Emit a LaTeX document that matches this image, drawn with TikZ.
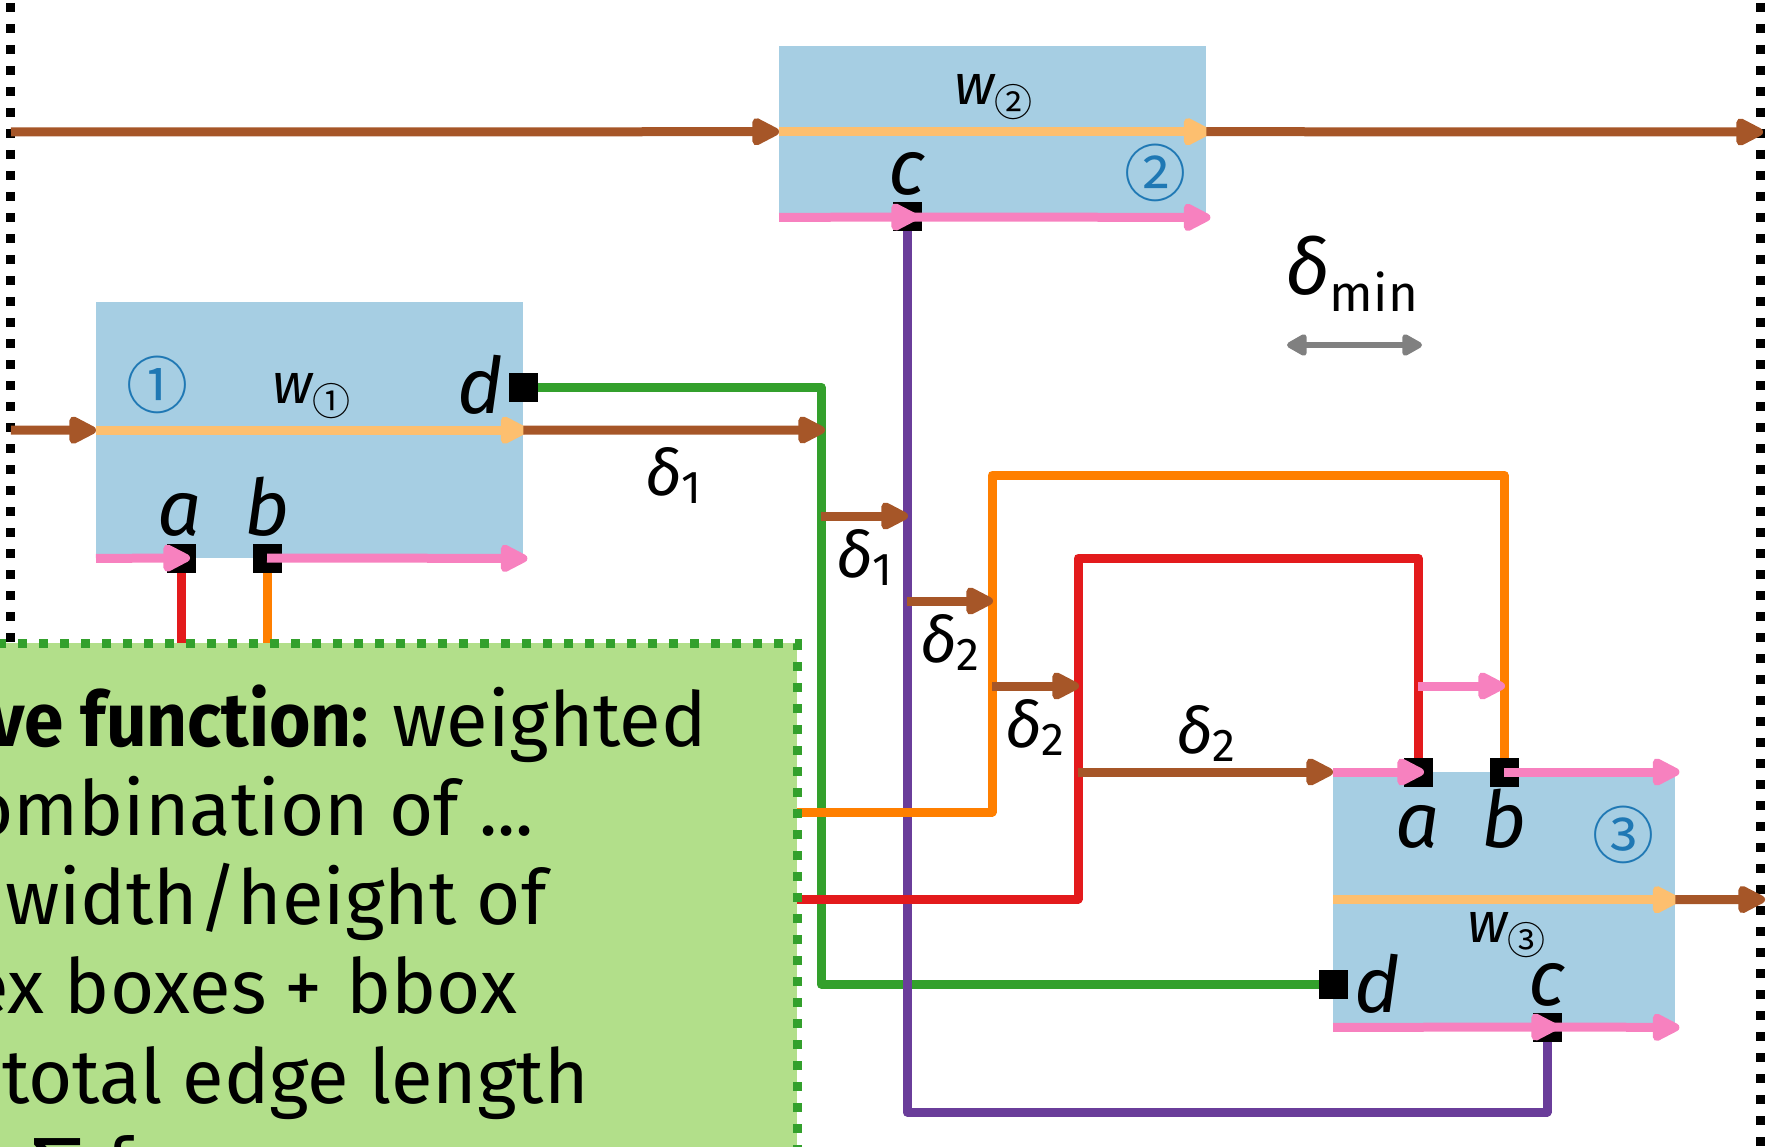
\documentclass[tikz,border=0pt]{standalone}
\usepackage{fontspec}
\setmainfont{Fira Sans}
\newfontfamily\circfont{DejaVu Sans}
\newfontfamily\cjk{Noto Sans CJK SC}
\usetikzlibrary{arrows.meta}
\definecolor{boxblue}{HTML}{A6CEE3}
\definecolor{numblue}{HTML}{1F78B4}
\definecolor{lgreen}{HTML}{B2DF8A}
\definecolor{dgreen}{HTML}{33A02C}
\definecolor{cred}{HTML}{E31A1C}
\definecolor{corange}{HTML}{FF7F00}
\definecolor{lorange}{HTML}{FDBF6F}
\definecolor{cpurple}{HTML}{6A3D9A}
\definecolor{cbrown}{HTML}{A65628}
\definecolor{cpink}{HTML}{F781BF}
\newcommand{\dlab}[1]{{\itshape δ}\raisebox{-8pt}{\fontsize{46}{50}\selectfont #1}}
\newcommand{\wlab}[1]{{\itshape w}\raisebox{-12pt}{\cjk\fontsize{38}{44}\selectfont #1}}
\tikzset{
  wire/.style={line width=9pt, line join=round, line cap=butt},
  arr/.style={wire, -{Triangle[round,length=32pt,width=30pt]}},
  vbox/.style={fill=boxblue, draw=none, inner sep=0pt, anchor=north west},
  port/.style={fill=black, minimum size=29pt, inner sep=0pt, draw=none},
  plabel/.style={font=\fontsize{78}{90}\selectfont\itshape, inner sep=0pt, anchor=base},
  dlabel/.style={font=\fontsize{64}{70}\selectfont, inner sep=0pt, anchor=base west},
  numlabel/.style={font=\cjk\fontsize{62}{70}\selectfont, text=numblue, inner sep=0pt},
  wlabel/.style={font=\fontsize{57}{60}\selectfont, inner sep=0pt, anchor=base west},
  gtext/.style={font=\fontsize{76}{90}\selectfont, inner sep=0pt, anchor=base east},
  border/.style={line width=9pt, dash pattern=on 9pt off 12pt},
}
\begin{document}
\begin{tikzpicture}[x=1pt,y=-1pt]
\useasboundingbox (0,0) rectangle (1768,1147);
\clip (0,0) rectangle (1768,1147);

% dotted frame
\draw[border, black] (10,3) -- (10,1160);
\draw[border, black] (1760,3) -- (1760,1160);

% vertex boxes
\node[vbox, minimum width=427pt, minimum height=256pt] (b1) at (96,302) {};
\node[vbox, minimum width=427pt, minimum height=171pt] (b2) at (779,46) {};
\node[vbox, minimum width=342pt, minimum height=255pt] (b3) at (1333,772) {};

% ports
\node[port] (b1a) at (181,558) {};
\node[port] (b1b) at (267,558) {};
\node[port] (b1d) at (523,387) {};
\node[port] (b2c) at (907,217) {};
\node[port] (b3a) at (1418,772) {};
\node[port] (b3b) at (1504,772) {};
\node[port] (b3d) at (1333,984) {};
\node[port] (b3c) at (1547,1027) {};

% free ends
\coordinate (gbO) at (790,812);
\coordinate (gbR) at (790,899);
\coordinate (gbA) at (181,660);
\coordinate (gbB) at (267,660);

% edges
\draw[wire, dgreen] (b1d.center) -- (821,387) -- (821,984) -- (b3d.center);
\draw[wire, cpurple] (b2c.center) -- (907,1112) -- (1547,1112) -- (b3c.center);
\draw[wire, corange] (gbO) -- (992,812) -- (992,475) -- (1504,475) -- (b3b.center);
\draw[wire, cred] (gbR) -- (1078,899) -- (1078,558) -- (1418,558) -- (b3a.center);
\draw[wire, cred] (b1a.center) -- (gbA);
\draw[wire, corange] (b1b.center) -- (gbB);

% objective function box
\node[fill=lgreen, draw=none, inner sep=0pt, anchor=north west, minimum width=817pt, minimum height=520pt] (gbox) at (-20,643) {};
\draw[border, dgreen] (-3,643) -- (797,643) -- (797,1160);
\node[gtext] (t1a) at (369,746) {\scalebox{0.935}[1]{\bfseries ve function:}};
\node[gtext, anchor=base west] (t1b) at (392,746) {weighted};
\node[gtext] (t2) at (534,835) {ombination of ...};
\node[gtext] (t3) at (547,924) {width/height of};
\node[gtext] (t4a) at (267,1013) {ex boxes};
\node[gtext, anchor=base west] (t4b) at (284,1013) {+\hspace{24pt}bbox};
\node[gtext] (t5) at (589,1103) {total edge length};
\node[font=\circfont\fontsize{75}{90}\selectfont, inner sep=0pt, anchor=base west] (t6) at (32,1192) {∑ f};

% ports redrawn on top
\node[port] at (b1a) {};
\node[port] at (b1b) {};
\node[port] at (b1d) {};
\node[port] at (b2c) {};
\node[port] at (b3a) {};
\node[port] at (b3b) {};
\node[port] at (b3d) {};
\node[port] at (b3c) {};

% brown flow
\coordinate (inT) at (11,132);
\coordinate (outT) at (1763,132);
\coordinate (inM) at (11,430);
\coordinate (d1e) at (825,430);
\coordinate (outB) at (1765,899.5);
\draw[arr, cbrown] (inT) -- (b2.west);
\draw[arr, lorange] (b2.west) -- ([xshift=4pt]b2.east);
\draw[arr, cbrown] (b2.east) -- (outT);
\draw[arr, cbrown] (inM) -- (b1.west);
\draw[arr, lorange] (b1.west) -- ([xshift=4pt]b1.east);
\draw[arr, cbrown] (b1.east) -- (d1e);
\draw[arr, cbrown] (821,516) -- (908,516);
\draw[arr, cbrown] (907,601) -- (993,601);
\draw[arr, cbrown] (992,686) -- (1079,686);
\draw[arr, cbrown] (1078,772) -- (b3.north west);
\draw[arr, lorange] (b3.west) -- ([xshift=4pt]b3.east);
\draw[arr, cbrown] (b3.east) -- (outB);

% pink
\draw[arr, cpink] (b1.south west) -- ([xshift=9pt]b1a.center);
\draw[arr, cpink] (b1b.center) -- ([xshift=4pt]b1.south east);
\draw[arr, cpink] (b2.south west) -- ([xshift=11pt]b2c.center);
\draw[arr, cpink] (b2c.center) -- ([xshift=4pt]b2.south east);
\draw[arr, cpink] (b3.north west) -- ([xshift=6pt]b3a.center);
\draw[arr, cpink] (b3b.center) -- ([xshift=4pt]b3.north east);
\draw[arr, cpink] (b3.south west) -- ([xshift=11pt]b3c.center);
\draw[arr, cpink] (b3c.center) -- ([xshift=4pt]b3.south east);
\draw[arr, cpink] (1418,686) -- (1505,686);

% delta min
\node[inner sep=0pt, anchor=base west] (dmin) at (1285,295) {{\fontsize{78}{80}\selectfont\itshape δ}\raisebox{-17pt}{\fontsize{51}{55}\selectfont min}};
\coordinate (dmL) at (1287,345);
\coordinate (dmR) at (1422,345);
\draw[line width=6pt, gray, {Triangle[round,length=23pt,width=24pt]}-{Triangle[round,length=23pt,width=24pt]}] (dmL) -- (dmR);

% labels
\node[wlabel] (w1) at (272,403) {\wlab{①}};
\node[wlabel] (w2) at (954,105) {\wlab{②}};
\node[wlabel] (w3) at (1467,942) {\wlab{③}};
\node[numlabel] (n1) at (157,385) {①};
\node[numlabel] (n2) at (1155,173) {②};
\node[numlabel] (n3) at (1623,835) {③};
\node[plabel] (l1a) at (180,535) {a};
\node[plabel] (l1b) at (267,535) {b};
\node[plabel] (l1d) at (480,413) {d};
\node[plabel] (l2c) at (907,195) {c};
\node[plabel] (l3a) at (1418,847) {a};
\node[plabel] (l3b) at (1504,847) {b};
\node[plabel] (l3d) at (1377,1012) {d};
\node[plabel] (l3c) at (1547,1005) {c};
\node[dlabel] (e1) at (645,495) {\dlab{1}};
\node[dlabel] (e2) at (836,577) {\dlab{1}};
\node[dlabel] (e3) at (920,662) {\dlab{2}};
\node[dlabel] (e4) at (1005,747) {\dlab{2}};
\node[dlabel] (e5) at (1176,753) {\dlab{2}};
\end{tikzpicture}
\end{document}
